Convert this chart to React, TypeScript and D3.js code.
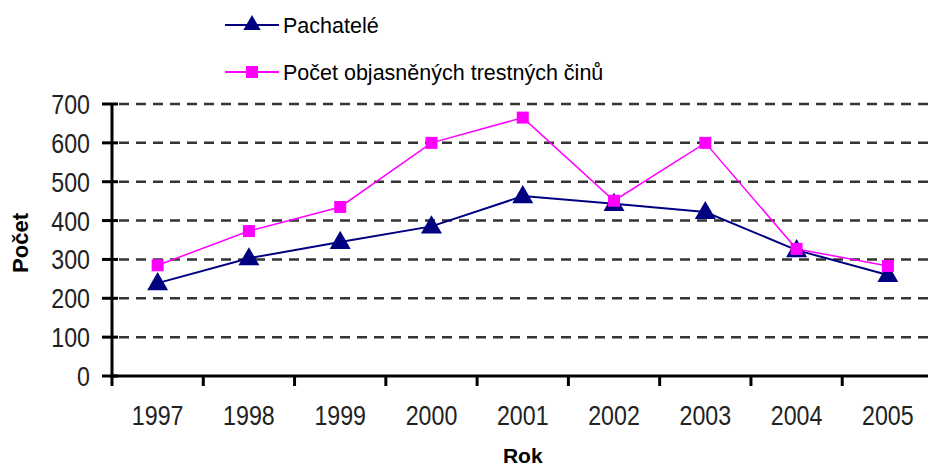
import React from 'react';
import * as d3 from 'd3';

const years = ['1997', '1998', '1999', '2000', '2001', '2002', '2003', '2004', '2005'];
const pachatele = [239, 303, 345, 385, 463, 443, 422, 324, 260];
const objasnene = [285, 373, 435, 600, 665, 451, 600, 327, 283];
const yTicks = [0, 100, 200, 300, 400, 500, 600, 700];
const seriesNames = ['Pachatelé', 'Počet objasněných trestných činů'];

const W = 928;
const H = 469;
const left = 112;
const right = 933.5;
const top = 104;
const bottom = 376;

const NAVY = '#000080';
const MAGENTA = '#FF00FF';
const FONT = '"Liberation Sans", Arial, sans-serif';

export default function App() {
  const x = d3.scaleBand<string>().domain(years).range([left, right]).padding(0);
  const y = d3.scaleLinear().domain([0, 700]).range([bottom, top]);
  const cx = (i: number) => (x(years[i]) as number) + x.bandwidth() / 2;

  const line = d3
    .line<number>()
    .x((_, i) => cx(i))
    .y((d) => y(d));

  const triPath = d3.symbol().type(d3.symbolTriangle).size(190)() as string;
  const legTriPath = d3.symbol().type(d3.symbolTriangle).size(130)() as string;
  const sq = 12;

  const boundaries = d3.range(years.length + 1).map((i) => left + i * x.bandwidth());

  return (
    <svg
      width={W}
      height={H}
      style={{ position: 'fixed', left: 0, top: 0, background: '#fff' }}
      fontFamily={FONT}
    >
      <rect x={0} y={0} width={W} height={H} fill="#fff" />
      {/* legend */}
      <g>
        <line x1={225} x2={279} y1={25} y2={25} stroke={NAVY} strokeWidth={2} />
        <path d={legTriPath} transform={`translate(252,25)`} fill={NAVY} />
        <text x={283} y={33} fontSize={21.5} fill="#000">
          {seriesNames[0]}
        </text>
        <line x1={225} x2={279} y1={72} y2={72} stroke={MAGENTA} strokeWidth={2} />
        <rect x={252 - sq / 2} y={72 - sq / 2} width={sq} height={sq} fill={MAGENTA} />
        <text x={283} y={80} fontSize={21.5} fill="#000">
          {seriesNames[1]}
        </text>
      </g>

      {/* gridlines */}
      {yTicks
        .filter((t) => t > 0)
        .map((t) => (
          <line
            key={'g' + t}
            x1={119}
            x2={right}
            y1={y(t)}
            y2={y(t)}
            stroke="#333"
            strokeWidth={2.5}
            strokeDasharray="10 7"
          />
        ))}

      {/* y axis */}
      <line x1={left} x2={left} y1={top - 1} y2={bottom + 2} stroke="#000" strokeWidth={3} />
      {yTicks.map((t) => (
        <g key={'yt' + t}>
          <line x1={102} x2={118} y1={y(t)} y2={y(t)} stroke="#000" strokeWidth={3} />
          <text
            transform={`translate(90,${y(t) + 10}) scale(0.86,1)`}
            textAnchor="end"
            fontSize={27}
            fill="#222"
          >
            {t}
          </text>
        </g>
      ))}

      {/* x axis */}
      <line x1={left - 1} x2={W} y1={bottom} y2={bottom} stroke="#000" strokeWidth={3} />
      {boundaries.map((b, i) => (
        <line key={'xt' + i} x1={b} x2={b} y1={bottom} y2={386} stroke="#000" strokeWidth={3} />
      ))}
      {years.map((yr, i) => (
        <text
          key={'xl' + yr}
          transform={`translate(${cx(i)},425) scale(0.86,1)`}
          textAnchor="middle"
          fontSize={27}
          fill="#222"
        >
          {yr}
        </text>
      ))}

      {/* axis titles */}
      <text x={(left + right) / 2} y={463} textAnchor="middle" fontSize={21} fontWeight="bold" fill="#000">
        Rok
      </text>
      <text
        transform={`translate(28,243) rotate(-90)`}
        textAnchor="middle"
        fontSize={22}
        fontWeight="bold"
        fill="#000"
      >
        Počet
      </text>

      {/* series lines */}
      <path d={line(pachatele) as string} fill="none" stroke={NAVY} strokeWidth={2} />
      <path d={line(objasnene) as string} fill="none" stroke={MAGENTA} strokeWidth={1.5} />

      {/* markers */}
      {pachatele.map((v, i) => (
        <path key={'tr' + i} d={triPath} transform={`translate(${cx(i)},${y(v) + 1})`} fill={NAVY} />
      ))}
      {objasnene.map((v, i) => (
        <rect key={'sq' + i} x={cx(i) - sq / 2} y={y(v) - sq / 2} width={sq} height={sq} fill={MAGENTA} />
      ))}
    </svg>
  );
}
